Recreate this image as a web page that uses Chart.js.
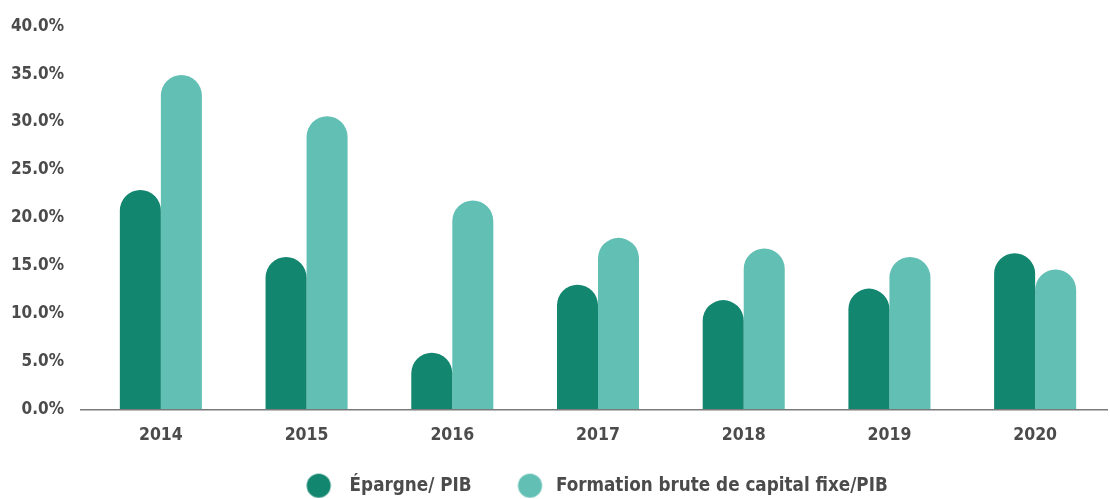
<!DOCTYPE html>
<html>
<head>
<meta charset="utf-8">
<script src="https://cdn.jsdelivr.net/npm/chart.js@4/dist/chart.umd.min.js"></script>
<style>
  html, body { margin: 0; padding: 0; background: #ffffff; }
  #wrap { width: 1110px; height: 499px; position: relative; }
</style>
</head>
<body>
<div id="wrap"><canvas id="chart"></canvas></div>
<script>
const years = ["2014", "2015", "2016", "2017", "2018", "2019", "2020"];
const epargne = [22.9, 15.9, 5.9, 13.0, 11.4, 12.6, 16.3];
const formation = [34.9, 30.6, 21.8, 17.9, 16.8, 15.9, 14.6];
const yTicks = [0, 5, 10, 15, 20, 25, 30, 35, 40];

const darkGreen = "#12866f";
const lightGreen = "#62bfb4";
const textColor = "#4b4b4b";
const fontFamily = "'Liberation Sans Narrow', 'DejaVu Sans Condensed', 'Roboto', sans-serif";

// legend dot with some blank room before it, so the gaps look like the original
function makeDot(color, cx) {
  const c = document.createElement("canvas");
  c.width = 60;
  c.height = 26;
  const g = c.getContext("2d");
  g.fillStyle = color;
  g.beginPath();
  g.arc(cx, 13, 12, 0, Math.PI * 2);
  g.fill();
  return c;
}
const dots = [makeDot(darkGreen, 38.4), makeDot(lightGreen, 43.4)];

// axis line that starts a bit left of the plot area, and legend nudged right
const tweaks = {
  id: "tweaks",
  afterLayout(chart) {
    chart.legend.left = 60;
  },
  afterDatasetsDraw(chart) {
    const ctx = chart.ctx;
    const y = chart.scales.y.getPixelForValue(0);
    ctx.save();
    ctx.strokeStyle = "#7a7a7a";
    ctx.lineWidth = 1.5;
    ctx.beginPath();
    ctx.moveTo(80, y + 0.5);
    ctx.lineTo(chart.chartArea.right, y + 0.5);
    ctx.stroke();
    ctx.restore();
  },
};

new Chart(document.getElementById("chart"), {
  type: "bar",
  data: {
    labels: years,
    datasets: [
      {
        label: "Épargne/ PIB",
        data: epargne,
        backgroundColor: darkGreen,
        borderRadius: { topLeft: 21, topRight: 21 },
        borderSkipped: "bottom",
        barPercentage: 1,
        categoryPercentage: 0.563,
      },
      {
        label: "Formation brute de capital fixe/PIB",
        data: formation,
        backgroundColor: lightGreen,
        borderRadius: { topLeft: 21, topRight: 21 },
        borderSkipped: "bottom",
        barPercentage: 1,
        categoryPercentage: 0.563,
      },
    ],
  },
  options: {
    responsive: true,
    maintainAspectRatio: false,
    animation: false,
    layout: { padding: { left: 0, right: 2, top: 2, bottom: -6 } },
    plugins: {
      legend: {
        position: "bottom",
        labels: {
          usePointStyle: true,
          pointStyleWidth: 60,
          padding: 15,
          color: textColor,
          font: { family: fontFamily, size: 18.7, weight: "bold" },
          generateLabels(chart) {
            const items = Chart.defaults.plugins.legend.labels.generateLabels(chart);
            items.forEach((it, i) => { it.pointStyle = dots[i]; });
            return items;
          },
        },
      },
      tooltip: { enabled: false },
    },
    scales: {
      x: {
        grid: { display: false, drawTicks: false },
        border: { display: false },
        afterFit(axis) { axis.height = 52; },
        ticks: {
          color: textColor,
          padding: 16,
          font: { family: fontFamily, size: 17.5, weight: "bold" },
        },
      },
      y: {
        min: 0,
        max: 40,
        afterBuildTicks(axis) {
          axis.ticks = yTicks.map((v) => ({ value: v }));
        },
        afterFit(axis) { axis.width = 88; },
        grid: { display: false, drawTicks: true, tickLength: 8 },
        border: { display: false },
        ticks: {
          color: textColor,
          padding: 16,
          font: { family: fontFamily, size: 17, weight: "bold" },
          callback: (v) => v.toFixed(1) + "%",
        },
      },
    },
  },
  plugins: [tweaks],
});
</script>
</body>
</html>
